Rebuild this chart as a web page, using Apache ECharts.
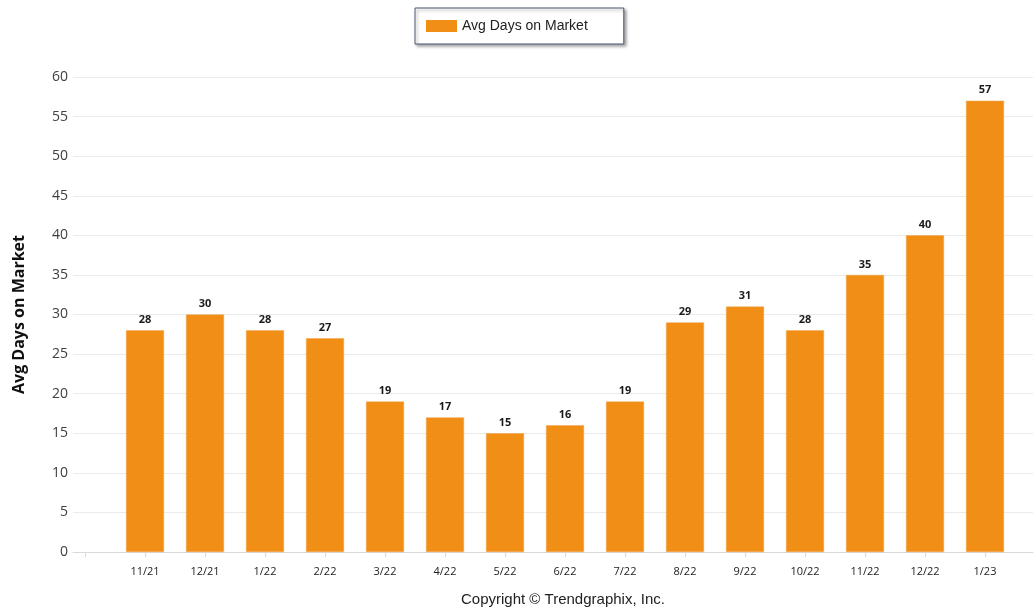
<!DOCTYPE html>
<html>
<head>
<meta charset="utf-8">
<title>Avg Days on Market</title>
<script src="https://cdn.jsdelivr.net/npm/echarts@6/dist/echarts.min.js"></script>
<style>
  html, body { margin: 0; padding: 0; background: #ffffff; }
  #chart { width: 1034px; height: 611px; }
</style>
</head>
<body>
<div id="chart"></div>
<script>
// Monthly periods shown along the bottom
const months = ['11/21', '12/21', '1/22', '2/22', '3/22', '4/22', '5/22', '6/22',
                '7/22', '8/22', '9/22', '10/22', '11/22', '12/22', '1/23'];
// Average days on market for each month
const avgDays = [28, 30, 28, 27, 19, 17, 15, 16, 19, 29, 31, 28, 35, 40, 57];
// Value axis tick labels
const yTicks = [0, 5, 10, 15, 20, 25, 30, 35, 40, 45, 50, 55, 60];

const chart = echarts.init(document.getElementById('chart'), null, { renderer: 'canvas' });

// Bars sit at integer positions on a numeric x scale so the plot can
// extend a little past the first and last month.
const barData = avgDays.map((v, i) => [i, v]);
const tickPositions = [-1].concat(months.map((m, i) => i));

chart.setOption({
  animation: false,
  backgroundColor: '#ffffff',
  textStyle: { fontFamily: 'Noto Sans, Arial, sans-serif' },
  legend: {
    top: 8,
    left: 415,
    icon: 'rect',
    itemWidth: 31,
    itemHeight: 12,
    itemGap: 0,
    itemStyle: { borderWidth: 0 },
    padding: [11, 36, 11, 11],
    borderColor: '#4d5670',
    borderWidth: 1,
    backgroundColor: '#ffffff',
    shadowColor: 'rgba(0,0,0,0.35)',
    shadowBlur: 3,
    shadowOffsetX: 2,
    shadowOffsetY: 2,
    textStyle: { fontFamily: 'Liberation Sans, Arial, sans-serif', fontSize: 14, color: '#222222', padding: [2, 0, 0, 0] },
    data: ['Avg Days on Market']
  },
  grid: { left: 73, right: 1, top: 77, bottom: 59 },
  xAxis: {
    type: 'value',
    min: -1.2,
    max: 14.8,
    splitLine: { show: false },
    axisLine: { show: true, lineStyle: { color: '#d9d9d9', width: 1 } },
    axisTick: {
      show: true,
      length: 5,
      customValues: tickPositions,
      lineStyle: { color: '#d9d9d9' }
    },
    axisLabel: {
      customValues: months.map((m, i) => i),
      formatter: v => months[Math.round(v)] || '',
      color: '#222222',
      fontSize: 11,
      margin: 14,
      fontFamily: 'Open Sans, Arial, sans-serif'
    }
  },
  yAxis: {
    type: 'value',
    min: yTicks[0],
    max: yTicks[yTicks.length - 1],
    interval: yTicks[1] - yTicks[0],
    name: 'Avg Days on Market',
    nameLocation: 'middle',
    nameGap: 46,
    nameRotate: 90,
    nameTextStyle: { fontSize: 16, fontWeight: 'bold', color: '#111111', fontFamily: 'Open Sans, Arial, sans-serif' },
    axisLine: { show: false },
    axisTick: { show: false },
    axisLabel: { color: '#404040', fontSize: 14, margin: 5, fontFamily: 'Open Sans, Arial, sans-serif' },
    splitLine: { lineStyle: { color: '#ebebeb', width: 1 } }
  },
  series: [{
    name: 'Avg Days on Market',
    type: 'bar',
    data: barData,
    barWidth: 38,
    itemStyle: { color: '#f08e16', borderColor: '#f4a24a', borderWidth: 0.5 },
    label: {
      show: true,
      position: 'top',
      distance: 5,
      formatter: p => p.value[1],
      fontSize: 11,
      fontWeight: 'bold',
      color: '#1a1a1a',
      fontFamily: 'Open Sans, Arial, sans-serif'
    }
  }],
  graphic: [{
    type: 'text',
    left: 461,
    top: 592,
    style: {
      text: 'Copyright \u00A9 Trendgraphix, Inc.',
      fontSize: 15,
      fill: '#222222',
      fontFamily: 'Liberation Sans, Arial, sans-serif'
    }
  }]
});
</script>
</body>
</html>
